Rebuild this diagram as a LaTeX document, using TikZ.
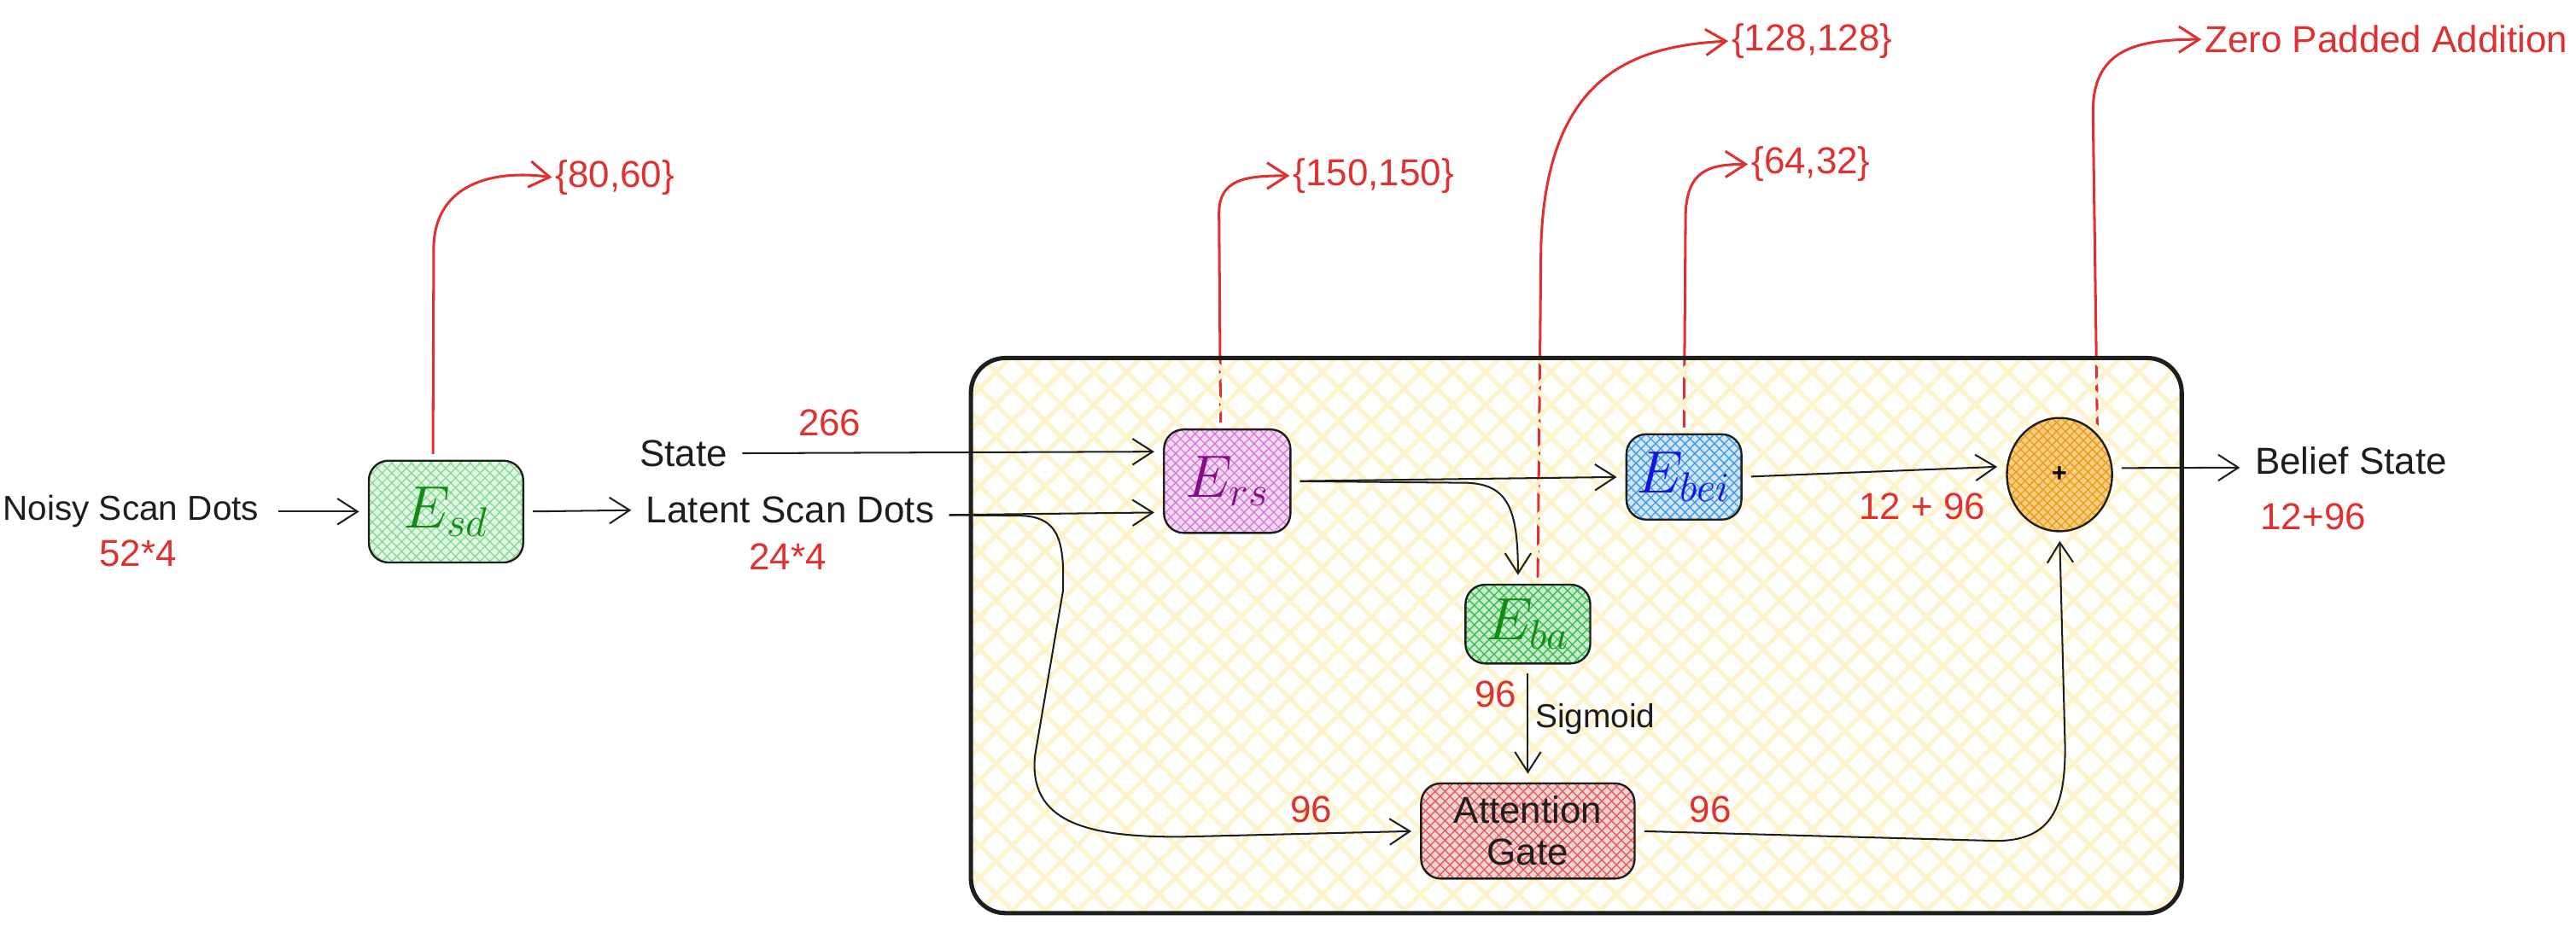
\documentclass[tikz,border=0pt]{standalone}
\usepackage{fontspec}
\setmainfont{Liberation Sans}
\usetikzlibrary{arrows.meta,patterns.meta,shapes.geometric,calc,backgrounds}
\definecolor{redl}{HTML}{E03131}
\definecolor{inkc}{HTML}{1E1E1E}
\definecolor{hatchY}{HTML}{FDF3CC}
\definecolor{gtext}{HTML}{138A13}
\definecolor{ptext}{HTML}{850C85}
\definecolor{btext}{HTML}{1414E6}
\definecolor{sdbase}{HTML}{E2F7E5}\definecolor{sdline}{HTML}{86DA95}
\definecolor{rsbase}{HTML}{F4D8F5}\definecolor{rsline}{HTML}{D27CD6}
\definecolor{beibase}{HTML}{CFE6FB}\definecolor{beiline}{HTML}{3F98E2}
\definecolor{babase}{HTML}{C6EECB}\definecolor{baline}{HTML}{3DBA52}
\definecolor{attbase}{HTML}{F6D2D2}\definecolor{attline}{HTML}{DE5C5C}
\definecolor{cbase}{HTML}{F8CF80}\definecolor{cline}{HTML}{EC9A1A}
\begin{document}
\begin{tikzpicture}[x=0.02cm,y=-0.02cm,
  conn/.style={draw=inkc,line width=0.6pt,-{Straight Barb[length=7pt,width=9pt,line width=0.6pt]},shorten >=3pt,shorten <=3pt},
  redconn/.style={draw=redl,line width=0.9pt,-{Straight Barb[length=7pt,width=9pt,line width=0.9pt]},shorten <=2pt},
  lbl/.style={font=\fontsize{13}{15}\selectfont,text=inkc,inner sep=2pt},
  num/.style={font=\fontsize{13}{15}\selectfont,text=redl,inner sep=1pt},
  hatch/.style n args={3}{preaction={fill=#1},
     preaction={pattern={Lines[angle=45,distance=#3,line width=0.4pt]},pattern color=#2},
     preaction={pattern={Lines[angle=-45,distance=#3,line width=0.4pt]},pattern color=#2}},
  encbox/.style={draw=inkc,line width=0.7pt,rounded corners=0.24cm,inner sep=0pt,font=\fontsize{22}{26}\selectfont},
]
\useasboundingbox (0,0) rectangle (1568,574.3);

% input / output texts
\node[lbl,anchor=west,inner sep=0.5pt,font=\fontsize{12}{14}\selectfont] (noisy) at (0.5,311.5) {Noisy Scan Dots};
\node[num] (n524) at (84,337) {52*4};
\node[lbl] (latent) at (481,310.6) {Latent Scan Dots};
\node[num] (n244) at (479.5,339) {24*4};
\node[lbl] (state) at (416,276) {State};
\node[num] (n266) at (505,257.7) {266};
\node[lbl] (belief) at (1431,280.7) {Belief State};
\node[num] (n1296b) at (1408,314.4) {12+96};

% encoders
\node[encbox,hatch={sdbase}{sdline}{2.4pt},minimum width=1.88cm,minimum height=1.24cm,text=gtext] (esd) at (271.5,311.5) {$E_{sd}$};
\node[encbox,hatch={rsbase}{rsline}{2.4pt},minimum width=1.54cm,minimum height=1.26cm,text=ptext] (ers) at (747,293) {$E_{rs}$};
\node[encbox,hatch={beibase}{beiline}{2.4pt},minimum width=1.40cm,minimum height=1.04cm,text=btext] (ebei) at (1025,290.4) {$E_{bei}$};
\node[encbox,hatch={babase}{baline}{2.4pt},minimum width=1.52cm,minimum height=0.96cm,text=gtext] (eba) at (930,380) {$E_{ba}$};
\node[encbox,hatch={attbase}{attline}{2.4pt},minimum width=2.60cm,minimum height=1.16cm,text=inkc,align=center,font=\fontsize{13}{14.5}\selectfont] (att) at (930,506) {Attention\\Gate};
\node[ellipse,draw=inkc,line width=0.7pt,hatch={cbase}{cline}{2.2pt},minimum width=1.28cm,minimum height=1.38cm,inner sep=0pt,font=\fontsize{9}{10}\selectfont\bfseries] (circ) at (1253.6,289) {+};

% inner labels
\node[num] (n96a) at (910.5,422.5) {96};
\node[lbl,font=\fontsize{11.5}{13}\selectfont] (sig) at (971,437.6) {Sigmoid};
\node[num] (n96b) at (798,493) {96};
\node[num] (n96c) at (1041,493) {96};
\node[num] (n1296a) at (1170,308.6) {12 + 96};

% red annotation labels
\node[num,anchor=west] (l8060) at (336,108) {\{80,60\}};
\node[num,anchor=west] (l150) at (785,107) {\{150,150\}};
\node[num,anchor=west] (l128) at (1052,25) {\{128,128\}};
\node[num,anchor=west] (l6432) at (1064,100) {\{64,32\}};
\node[num,anchor=west] (lzero) at (1340,24) {Zero Padded Addition};

\begin{scope}[on background layer]
  \draw[redconn] ($(esd.north)+(-8,0)$) -- (264,150) .. controls (265,112) and (300,103) .. (l8060.west);
  \draw[redconn] ($(ers.north)+(-4,0)$) -- (742,130) .. controls (742,109) and (758,107) .. (l150.west);
  \draw[redconn] ($(eba.north)+(6,0)$) -- (938,150) .. controls (941,45) and (995,28) .. (l128.west);
  \draw[redconn] (ebei.north) -- (1026,130) .. controls (1027,104) and (1040,100) .. (l6432.west);
  \draw[redconn] (circ.north east) -- (1274,70) .. controls (1273,30) and (1300,24) .. (lzero.west);
  \path[rounded corners=0.42cm,pattern={Lines[angle=45,distance=8pt,line width=1.6pt]},pattern color=hatchY] (591,218) rectangle (1328,556);
  \path[rounded corners=0.42cm,pattern={Lines[angle=-45,distance=8pt,line width=1.6pt]},pattern color=hatchY] (591,218) rectangle (1328,556);
  \draw[rounded corners=0.42cm,line width=1.5pt,draw=inkc] (591,218) rectangle (1328,556);
\end{scope}

% black connectors
\draw[conn,shorten <=6pt] (noisy.east) -- (esd.west);
\draw[conn] (esd.east) -- (latent.west);
\draw[conn] (state.east) -- ($(ers.west)+(0,-18)$);
\draw[conn] ($(latent.east)+(0,3)$) -- ($(ers.west)+(0,19)$);
\draw[conn] ($(latent.east)+(0,3)$) -- (620,314) .. controls (645,314) and (648,330) .. (647,360) -- (630,460) .. controls (626,500) and (660,510) .. (720,509.5) -- (att.west);
\draw[conn] (ers.east) -- (ebei.west);
\draw[conn] (ers.east) -- (893,294) .. controls (918,295) and (924,310) .. ($(eba.north)+(-6,0)$);
\draw[conn] (eba.south) -- (att.north);
\draw[conn] (att.east) -- (1215,512) .. controls (1250,512) and (1257,490) .. (1257,455) -- (circ.south);
\draw[conn] (ebei.east) -- ($(circ.west)+(0,-5)$);
\draw[conn] ($(circ.east)+(0,-4)$) -- ($(belief.west)+(0,4)$);
\end{tikzpicture}
\end{document}
